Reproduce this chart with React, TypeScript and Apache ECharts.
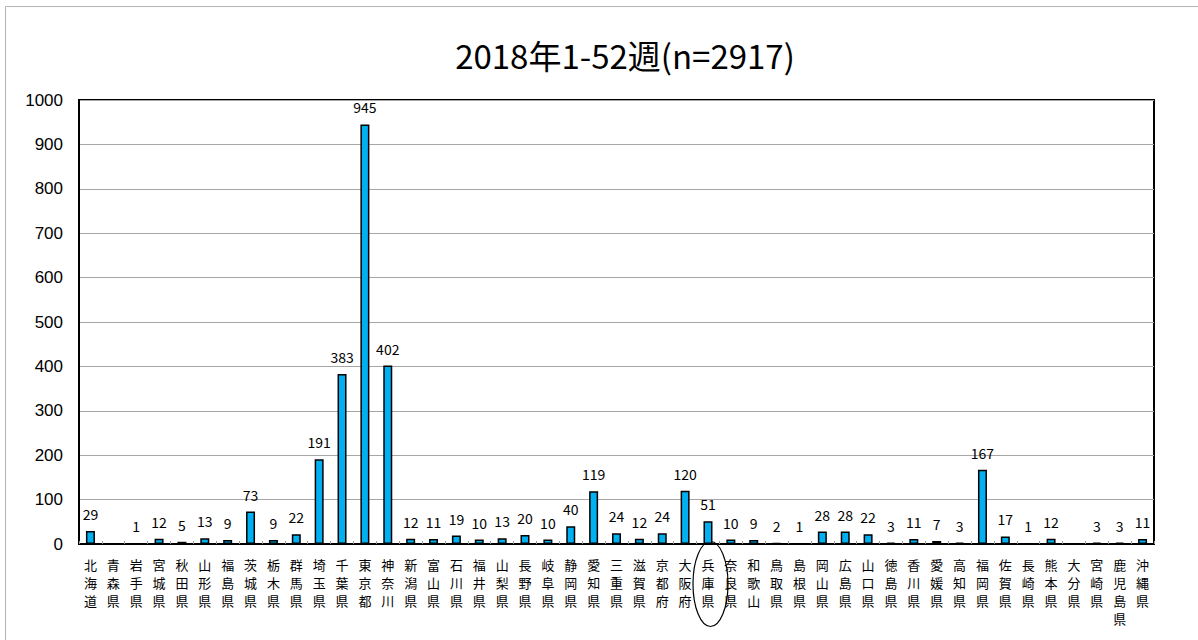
import React, { useEffect, useRef } from "react";
import * as echarts from "echarts";

const TITLE = "2018年1-52週(n=2917)";

const prefectures = [
  "北海道", "青森県", "岩手県", "宮城県", "秋田県", "山形県", "福島県", "茨城県", "栃木県", "群馬県",
  "埼玉県", "千葉県", "東京都", "神奈川", "新潟県", "富山県", "石川県", "福井県", "山梨県", "長野県",
  "岐阜県", "静岡県", "愛知県", "三重県", "滋賀県", "京都府", "大阪府", "兵庫県", "奈良県", "和歌山",
  "鳥取県", "島根県", "岡山県", "広島県", "山口県", "徳島県", "香川県", "愛媛県", "高知県", "福岡県",
  "佐賀県", "長崎県", "熊本県", "大分県", "宮崎県", "鹿児島県", "沖縄県",
];

const counts = [
  29, 0, 1, 12, 5, 13, 9, 73, 9, 22,
  191, 383, 945, 402, 12, 11, 19, 10, 13, 20,
  10, 40, 119, 24, 12, 24, 120, 51, 10, 9,
  2, 1, 28, 28, 22, 3, 11, 7, 3, 167,
  17, 1, 12, 0, 3, 3, 11,
];

const yMin = 0;
const yMax = 1000;
const yInterval = 100;

export default function App() {
  const ref = useRef<HTMLDivElement>(null);

  useEffect(() => {
    if (!ref.current) return;
    const chart = echarts.init(ref.current, null, { renderer: "svg" });
    chart.setOption({
      animation: false,
      backgroundColor: "#ffffff",
      title: {
        text: TITLE,
        left: 620,
        top: 33,
        textAlign: "center",
        textStyle: {
          fontFamily: "Noto Sans CJK JP",
          fontSize: 33,
          fontWeight: "normal",
          color: "#000",
        },
      },
      grid: {
        left: 79,
        top: 100,
        width: 1075,
        height: 444,
        show: true,
        borderColor: "#000",
        borderWidth: 2,
        backgroundColor: "transparent",
        containLabel: false,
      },
      xAxis: {
        type: "category",
        data: prefectures,
        boundaryGap: true,
        axisLine: { show: true, lineStyle: { color: "#000", width: 2 } },
        axisTick: {
          show: true,
          inside: true,
          length: 3,
          lineStyle: { color: "#999" },
        },
        axisLabel: {
          interval: 0,
          margin: 11,
          fontFamily: "Noto Sans CJK JP",
          fontSize: 13,
          lineHeight: 18,
          color: "#000",
          verticalAlign: "top",
          formatter: (v: string) => v.split("").join("\n"),
        },
      },
      yAxis: {
        type: "value",
        min: yMin,
        max: yMax,
        interval: yInterval,
        axisLine: { show: true, lineStyle: { color: "#000", width: 2 } },
        axisTick: { show: false },
        splitLine: { show: true, lineStyle: { color: "#a6a6a6", width: 1 } },
        axisLabel: {
          margin: 16,
          fontFamily: "Liberation Sans, Arial, sans-serif",
          fontSize: 17,
          color: "#000",
          formatter: (v: number) => String(v),
        },
      },
      series: [
        {
          type: "bar",
          data: counts,
          barWidth: 9,
          itemStyle: {
            color: "#00b0f0",
            borderColor: "#000",
            borderWidth: 1.5,
          },
          label: {
            show: true,
            position: "top",
            distance: 10,
            fontFamily: "Noto Sans CJK JP",
            fontSize: 14,
            color: "#000",
            formatter: (p: any) => (p.value === 0 ? "" : String(p.value)),
          },
        },
      ],
      graphic: [
        {
          type: "rect",
          shape: { x: 5.5, y: 6.5, width: 1400, height: 1000 },
          style: { fill: "none", stroke: "#b4b4b4", lineWidth: 1 },
          silent: true,
        },
        {
          type: "ellipse",
          shape: { cx: 710.5, cy: 584, rx: 17.5, ry: 42.5 },
          style: { fill: "none", stroke: "#000", lineWidth: 1.2 },
          silent: true,
        },
      ],
    });
    return () => chart.dispose();
  }, []);

  return (
    <div
      ref={ref}
      style={{ position: "absolute", left: 0, top: 0, width: 1198, height: 640 }}
    />
  );
}
